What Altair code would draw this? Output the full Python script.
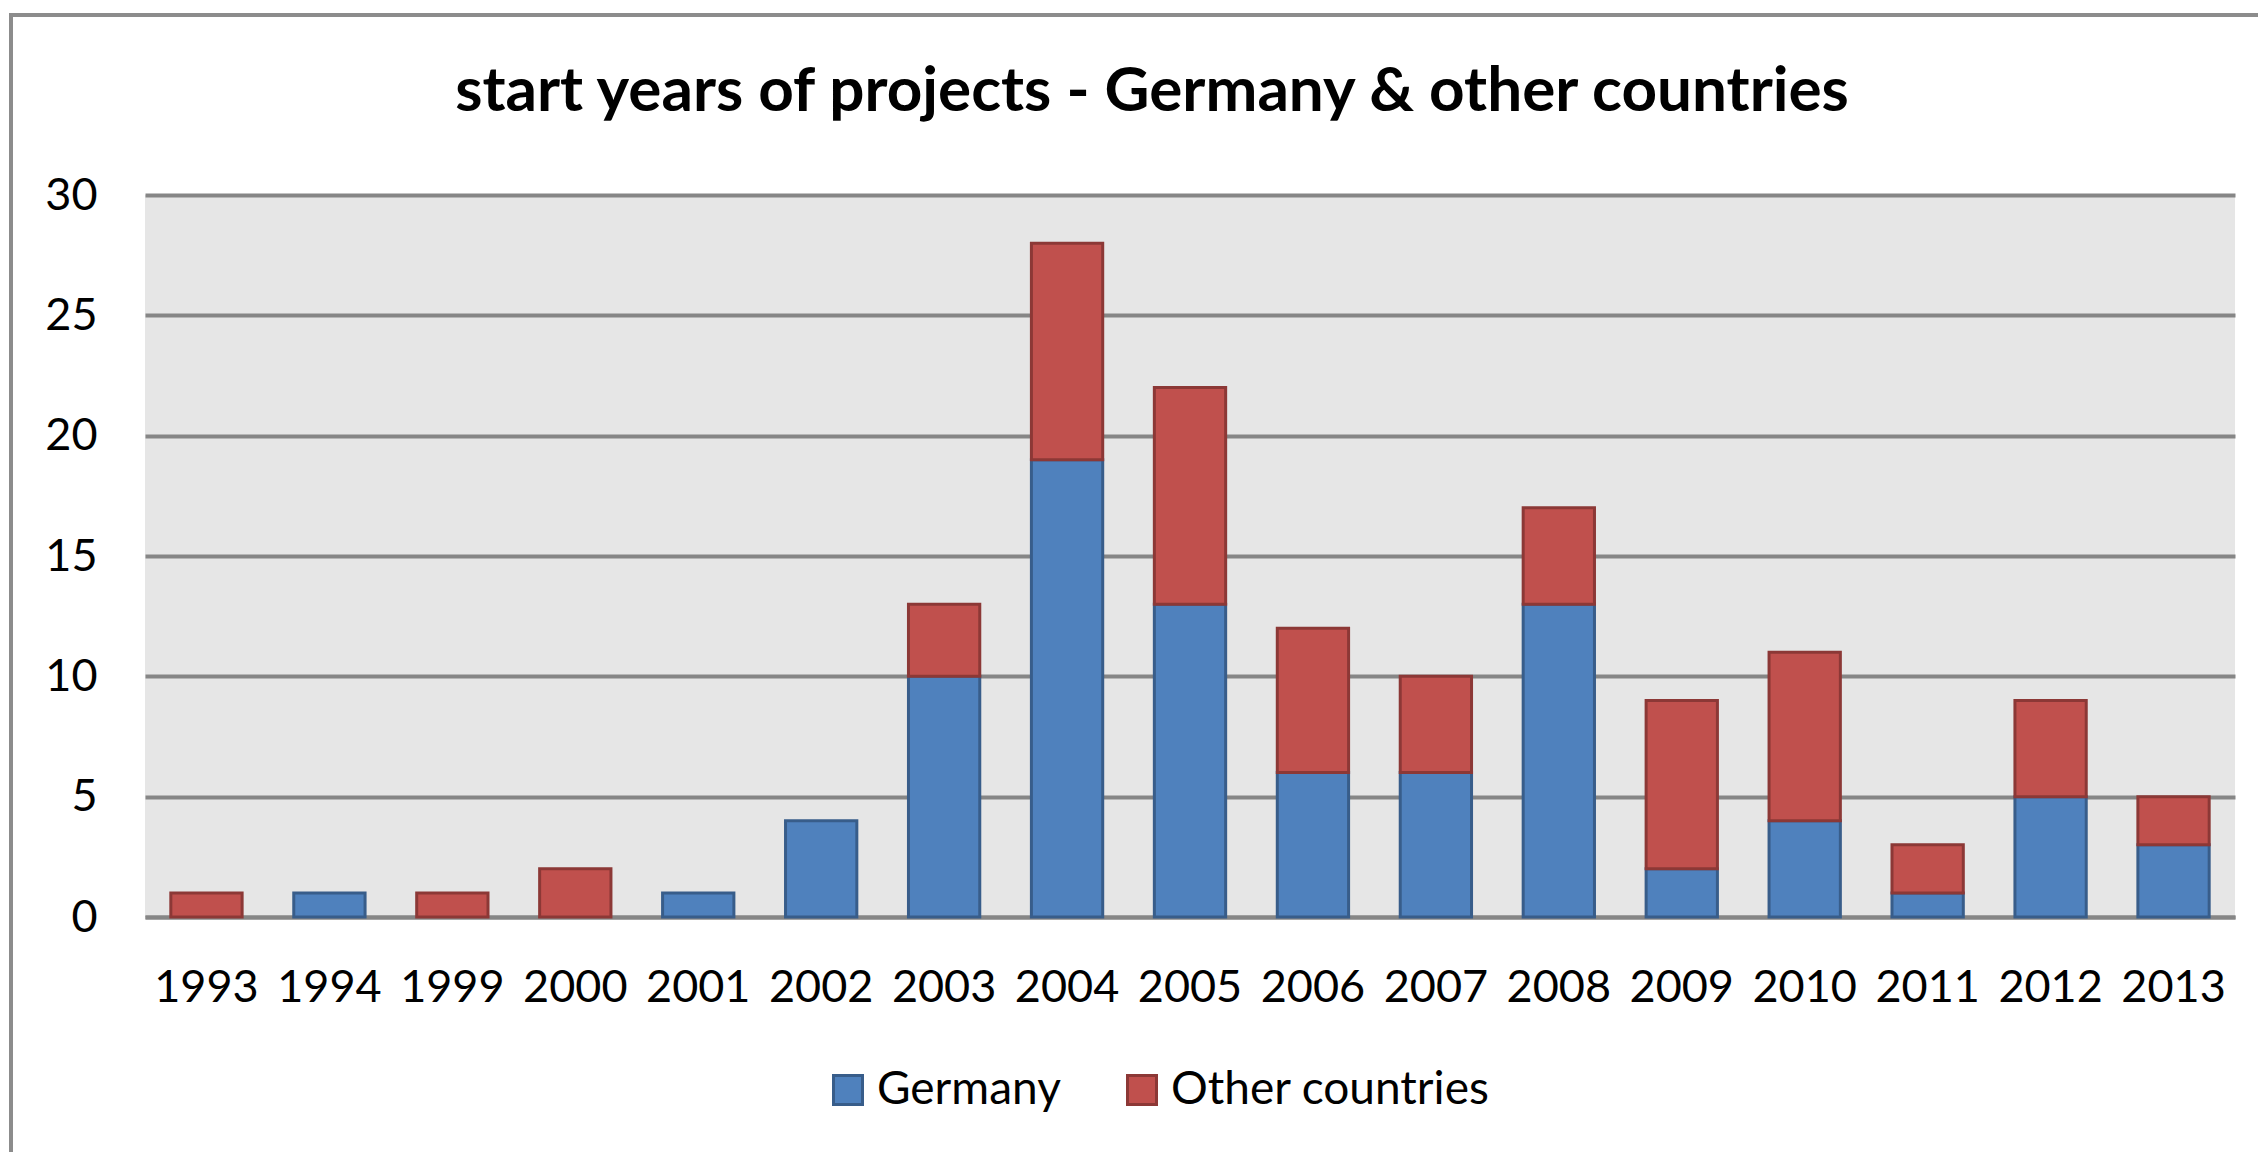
import altair as alt
import pandas as pd

years = ["1993", "1994", "1999", "2000", "2001", "2002", "2003", "2004", "2005",
         "2006", "2007", "2008", "2009", "2010", "2011", "2012", "2013"]
germany = [0, 1, 0, 0, 1, 4, 10, 19, 13, 6, 6, 13, 2, 4, 1, 5, 3]
other = [1, 0, 1, 2, 0, 0, 3, 9, 9, 6, 4, 4, 7, 7, 2, 4, 2]
series = ["Germany", "Other countries"]
fills = ["#4F81BD", "#C0504D"]
strokes = ["#385D8A", "#8C3836"]
y_ticks = [0, 5, 10, 15, 20, 25, 30]

rows = []
for i, yr in enumerate(years):
    rows.append({"year": yr, "series": series[0], "value": germany[i], "ord": 0})
    rows.append({"year": yr, "series": series[1], "value": other[i], "ord": 1})
df = pd.DataFrame(rows)

W, H = 2090, 722
FONT = "Lato"
LBL = 45

legend_kw = dict(title=None, orient="none", direction="horizontal",
                 legendX=680, legendY=872, symbolType="square",
                 symbolSize=841, symbolStrokeWidth=3,
                 labelFontSize=46, labelFont=FONT, labelLimit=0,
                 labelColor="#000000", columnPadding=58, labelOffset=6)

bars = alt.Chart(df).transform_filter(alt.datum.value > 0).mark_bar(strokeWidth=3).encode(
    x=alt.X("year:N", sort=years, title=None,
            scale=alt.Scale(domain=years, paddingInner=0.42, paddingOuter=0.21),
            axis=alt.Axis(labelAngle=0, ticks=False, domain=True, domainColor="#868686",
                          domainWidth=4, labelPadding=48, labelFontSize=LBL,
                          labelFont=FONT, labelColor="#000000", grid=False)),
    y=alt.Y("value:Q", stack="zero", title=None,
            scale=alt.Scale(domain=[0, 30], nice=False),
            axis=alt.Axis(values=y_ticks, ticks=False, domain=False, grid=True,
                          gridColor="#868686", gridWidth=4, labelPadding=48,
                          labelFontSize=LBL, labelFont=FONT, labelColor="#000000")),
    color=alt.Color("series:N", scale=alt.Scale(domain=series, range=fills),
                    legend=alt.Legend(**legend_kw)),
    stroke=alt.Stroke("series:N", scale=alt.Scale(domain=series, range=strokes),
                      legend=alt.Legend(**legend_kw)),
    order=alt.Order("ord:Q"),
)

frame_data = alt.Data(values=[{"k": 1}])
frame_top = alt.Chart(frame_data).mark_rule(color="#8C8C8C", strokeWidth=4).encode(
    x=alt.value(-136), x2=alt.value(W + 40), y=alt.value(-180)
)
frame_left = alt.Chart(frame_data).mark_rule(color="#8C8C8C", strokeWidth=4).encode(
    x=alt.value(-134), y=alt.value(-182), y2=alt.value(H + 300)
)

chart = alt.layer(bars, frame_top, frame_left).properties(
    width=W, height=H,
    background="#FFFFFF",
    autosize=alt.AutoSizeParams(type="none"),
    padding={"left": 137, "top": 187, "right": 23, "bottom": 235},
    title=alt.TitleParams(
        "start years of projects - Germany & other countries",
        font=FONT, fontSize=62, fontWeight="bold", color="#000000",
        anchor="middle", frame="group", offset=-162, baseline="alphabetic", dx=-38,
    ),
).configure_view(fill="#E6E6E6", stroke=None)

chart.save("out.html", embed_options={"renderer": "svg", "actions": False})
